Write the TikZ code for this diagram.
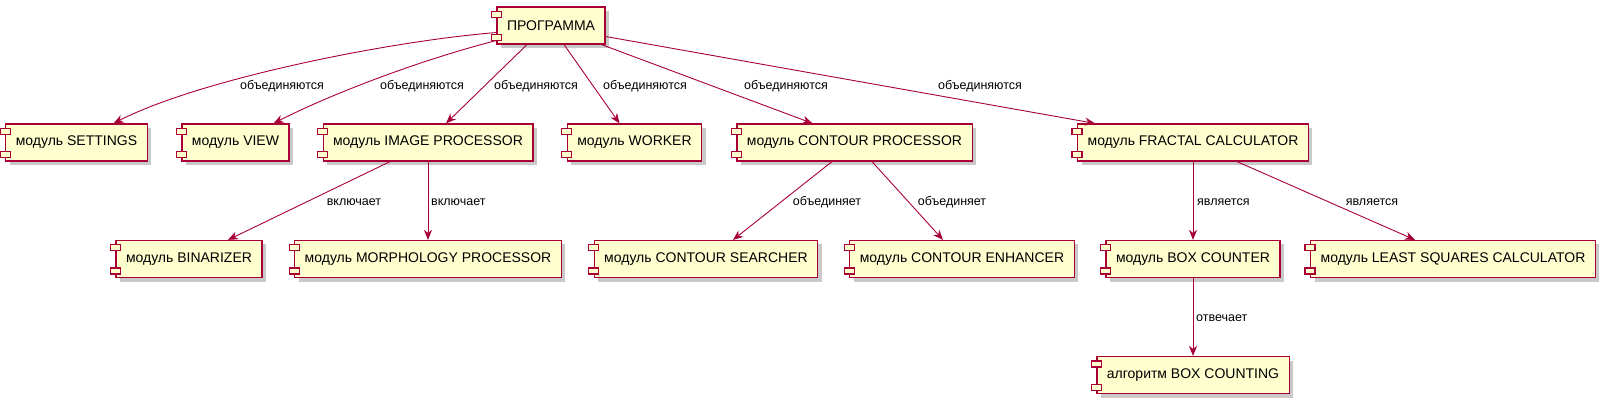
\documentclass[tikz,border=0pt]{standalone}
\usepackage{fontspec}
\setmainfont{Liberation Sans}
\usetikzlibrary{arrows.meta, shadows}
\definecolor{umlred}{HTML}{A80036}
\definecolor{umlfill}{HTML}{FEFECE}
\tikzstyle{component} = [rectangle, draw=umlred, fill=umlfill, line width=1.2pt, minimum height=37pt, inner xsep=10pt, text centered, font=\fontsize{14}{16}\selectfont, drop shadow={opacity=0.3, fill=black!70, shadow xshift=4pt, shadow yshift=-4pt}]
\tikzstyle{icon} = [draw=umlred, fill=umlfill, line width=1.2pt]
\tikzstyle{edgetext} = [font=\fontsize{12.5}{14}\selectfont, inner sep=1pt]
\tikzstyle{arrow} = [umlred, line width=0.9pt, -{Stealth[length=10pt,width=8pt,inset=3pt]}]

\begin{document}
\begin{tikzpicture}[x=1pt, y=-1pt]
\useasboundingbox (0,0) rectangle (1608,403);

% components
\node (prog) [component] at (551,25.5) {ПРОГРАММА};
\node (settings) [component] at (76.5,142.5) {модуль SETTINGS};
\node (view) [component] at (235.5,142.5) {модуль VIEW};
\node (image) [component] at (428,142.5) {модуль IMAGE PROCESSOR};
\node (worker) [component] at (634.5,142.5) {модуль WORKER};
\node (contour) [component] at (854.5,142.5) {модуль CONTOUR PROCESSOR};
\node (fractal) [component] at (1193,142.5) {модуль FRACTAL CALCULATOR};
\node (binarizer) [component] at (189,259) {модуль BINARIZER};
\node (morph) [component] at (428,259) {модуль MORPHOLOGY PROCESSOR};
\node (searcher) [component] at (706,259) {модуль CONTOUR SEARCHER};
\node (enhancer) [component] at (962,259) {модуль CONTOUR ENHANCER};
\node (boxcounter) [component] at (1193,259) {модуль BOX COUNTER};
\node (leastsq) [component] at (1453,259) {модуль LEAST SQUARES CALCULATOR};
\node (boxcounting) [component] at (1193,375) {алгоритм BOX COUNTING};

% little component icons
\foreach \n in {prog,settings,view,image,worker,contour,fractal,binarizer,morph,searcher,enhancer,boxcounter,leastsq,boxcounting} {
  \draw[icon] ([xshift=-5pt,yshift=-5pt]\n.north west) rectangle ++(10pt,-6pt);
  \draw[icon] ([xshift=-5pt,yshift=4pt]\n.south west) rectangle ++(10pt,6pt);
}

% labels
\node (l1) [edgetext] at (282,86) {объединяются};
\node (l2) [edgetext] at (422,86) {объединяются};
\node (l3) [edgetext] at (536,86) {объединяются};
\node (l4) [edgetext] at (645,86) {объединяются};
\node (l5) [edgetext] at (786,86) {объединяются};
\node (l6) [edgetext] at (980,86) {объединяются};
\node (i1) [edgetext] at (354,202) {включает};
\node (i2) [edgetext, anchor=west] at (430,202) {включает};
\node (c1) [edgetext] at (827,202) {объединяет};
\node (c2) [edgetext] at (952,202) {объединяет};
\node (f1) [edgetext, anchor=west] at (1196,202) {является};
\node (f2) [edgetext] at (1372,202) {является};
\node (b1) [edgetext, anchor=west] at (1195,318) {отвечает};

% connectors
\draw [arrow] ([yshift=-7pt]prog.west) .. controls +(-110,9) and +(86,-44) .. ([xshift=37pt]settings.north);
\draw [arrow] ([yshift=-15pt]prog.west) .. controls +(-78,20) and +(57,-29) .. ([xshift=38pt]view.north);
\draw [arrow] ([xshift=-24pt]prog.south) -- ([xshift=18pt]image.north);
\draw [arrow] ([xshift=13pt]prog.south) -- ([xshift=-15pt]worker.north);
\draw [arrow] ([xshift=-4pt]prog.south east) -- ([xshift=-42pt]contour.north);
\draw [arrow] ([yshift=-11pt]prog.east) -- ([xshift=-98pt]fractal.north);

\draw [arrow] ([xshift=-38pt]image.south) -- ([xshift=39pt]binarizer.north);
\draw [arrow] (image) -- (morph);
\draw [arrow] ([xshift=-22.5pt]contour.south) -- ([xshift=27pt]searcher.north);
\draw [arrow] ([xshift=17.5pt]contour.south) -- ([xshift=-19pt]enhancer.north);
\draw [arrow] (fractal) -- (boxcounter);
\draw [arrow] ([xshift=44pt]fractal.south) -- ([xshift=-38pt]leastsq.north);
\draw [arrow] (boxcounter) -- (boxcounting);

\end{tikzpicture}
\end{document}
